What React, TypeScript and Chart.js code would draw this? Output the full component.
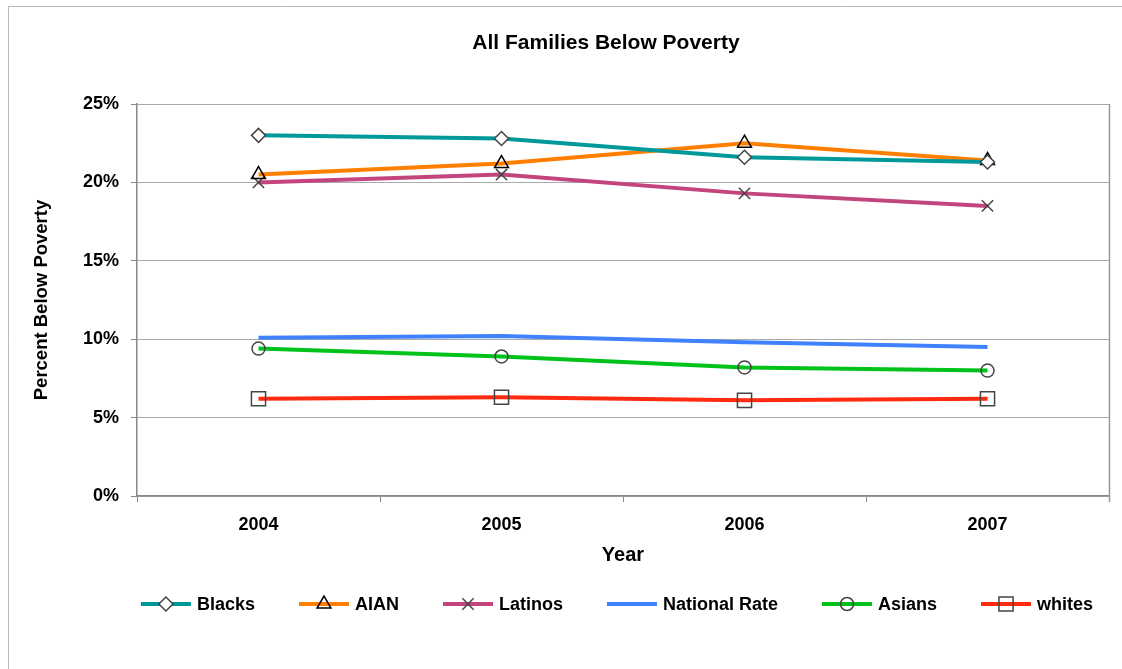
import React, { useEffect, useRef } from "react";
import { Chart, registerables } from "chart.js";
import { drawPoint } from "chart.js/helpers";

Chart.register(...registerables);

const years = ["2004", "2005", "2006", "2007"];
const blacks = [23.0, 22.8, 21.6, 21.3];
const aian = [20.5, 21.2, 22.5, 21.4];
const latinos = [20.0, 20.5, 19.3, 18.5];
const nationalRate = [10.1, 10.2, 9.8, 9.5];
const asians = [9.4, 8.9, 8.2, 8.0];
const whites = [6.2, 6.3, 6.1, 6.2];

const chartTitle = "All Families Below Poverty";

const FONT = "'Liberation Sans', Arial, Helvetica, sans-serif";

type Series = {
  label: string;
  data: number[];
  color: string;
  pointStyle: any;
  radius: number;
  border: string;
  fill: string;
};

const series: Series[] = [
  { label: "Blacks", data: blacks, color: "#00999A", pointStyle: "rectRot", radius: 7, border: "#444", fill: "#fff" },
  { label: "AIAN", data: aian, color: "#FF7F00", pointStyle: "triangle", radius: 8, border: "#000", fill: "rgba(0,0,0,0)" },
  { label: "Latinos", data: latinos, color: "#C2457E", pointStyle: "crossRot", radius: 8, border: "#444", fill: "rgba(0,0,0,0)" },
  { label: "National Rate", data: nationalRate, color: "#3F81FF", pointStyle: false, radius: 0, border: "#444", fill: "rgba(0,0,0,0)" },
  { label: "Asians", data: asians, color: "#00C21A", pointStyle: "circle", radius: 6.5, border: "#444", fill: "rgba(0,0,0,0)" },
  { label: "whites", data: whites, color: "#FF2A10", pointStyle: "rect", radius: 10, border: "#444", fill: "rgba(0,0,0,0)" },
];

const framePlugin = {
  id: "frame",
  beforeDraw(chart: any) {
    const ctx = chart.ctx;
    ctx.save();
    ctx.strokeStyle = "#bbbbbb";
    ctx.lineWidth = 1;
    ctx.beginPath();
    ctx.moveTo(8, 6.5);
    ctx.lineTo(chart.width, 6.5);
    ctx.moveTo(8.5, 6);
    ctx.lineTo(8.5, chart.height);
    ctx.stroke();
    ctx.fillStyle = "#000";
    ctx.font = `bold 21px ${FONT}`;
    ctx.textAlign = "center";
    ctx.textBaseline = "middle";
    ctx.fillText(chartTitle, 606, 43);
    ctx.restore();
  },
  afterDatasetsDraw(chart: any) {
    const ctx = chart.ctx;
    const a = chart.chartArea;
    ctx.save();
    ctx.strokeStyle = "#999999";
    ctx.lineWidth = 1.5;
    ctx.beginPath();
    ctx.moveTo(Math.round(a.right) + 0.5, a.top);
    ctx.lineTo(Math.round(a.right) + 0.5, a.bottom + 6);
    ctx.stroke();
    ctx.restore();
  },
};

const legendPlugin = {
  id: "customLegend",
  afterDraw(chart: any) {
    const ctx = chart.ctx;
    ctx.save();
    ctx.font = `bold 18px ${FONT}`;
    const lineLen = 50;
    const textGap = 6;
    const itemGap = 44;
    const widths = series.map((s) => ctx.measureText(s.label).width);
    const total =
      widths.reduce((a, b) => a + b, 0) + series.length * (lineLen + textGap) + (series.length - 1) * itemGap;
    let x = 617 - total / 2;
    const y = 604;
    series.forEach((s, i) => {
      ctx.strokeStyle = s.color;
      ctx.lineWidth = 4;
      ctx.beginPath();
      ctx.moveTo(x, y);
      ctx.lineTo(x + lineLen, y);
      ctx.stroke();
      if (s.pointStyle) {
        ctx.strokeStyle = s.border;
        ctx.fillStyle = s.fill;
        ctx.lineWidth = 1.5;
        drawPoint(ctx, { pointStyle: s.pointStyle, radius: s.radius, borderWidth: 1.5, rotation: 0 } as any, x + lineLen / 2, y);
      }
      ctx.fillStyle = "#000";
      ctx.textBaseline = "middle";
      ctx.textAlign = "left";
      ctx.fillText(s.label, x + lineLen + textGap, y + 1);
      x += lineLen + textGap + widths[i] + itemGap;
    });
    ctx.restore();
  },
};

export default function App() {
  const ref = useRef<HTMLCanvasElement | null>(null);

  useEffect(() => {
    if (!ref.current) return;
    const chart = new Chart(ref.current, {
      type: "line",
      data: {
        labels: years,
        datasets: series.map((s) => ({
          label: s.label,
          data: s.data,
          borderColor: s.color,
          backgroundColor: s.color,
          borderWidth: 4,
          tension: 0,
          pointStyle: s.pointStyle,
          pointRadius: s.radius,
          pointHoverRadius: s.radius,
          pointBorderColor: s.border,
          pointBackgroundColor: s.fill,
          pointBorderWidth: 1.5,
        })),
      },
      options: {
        animation: false,
        responsive: false,
        maintainAspectRatio: false,
        layout: { padding: { left: 31, right: 13, top: 104, bottom: 102 } },
        plugins: {
          legend: { display: false },
          tooltip: { enabled: false },
          title: { display: false },
        },
        scales: {
          x: {
            offset: true,
            grid: {
              offset: true,
              drawOnChartArea: false,
              drawTicks: true,
              tickLength: 6,
              color: "#888",
            },
            border: { color: "#888", width: 1.5 },
            ticks: { color: "#000", font: { family: FONT, size: 18, weight: "bold" }, padding: 12 },
            title: {
              display: true,
              text: "Year",
              color: "#000",
              font: { family: FONT, size: 20, weight: "bold" },
              padding: 0,
            },
            afterFit(scale: any) {
              scale.height = 71;
            },
          },
          y: {
            min: 0,
            max: 25,
            grid: { color: "#aaa", tickLength: 6, tickColor: "#888" },
            border: { color: "#888", width: 1.5 },
            ticks: {
              stepSize: 5,
              color: "#000",
              padding: 12,
              font: { family: FONT, size: 18, weight: "bold" },
              callback: (v: any) => v + "%",
            },
            title: {
              display: true,
              text: "Percent Below Poverty",
              color: "#000",
              font: { family: FONT, size: 18.5, weight: "bold" },
              padding: 0,
            },
            afterFit(scale: any) {
              scale.width = 106;
            },
          },
        },
      },
      plugins: [framePlugin, legendPlugin],
    });
    return () => chart.destroy();
  }, []);

  return (
    <div style={{ position: "fixed", left: 0, top: 0, width: 1122, height: 669, background: "#fff" }}>
      <canvas ref={ref} width={1122} height={669} style={{ width: 1122, height: 669, display: "block" }} />
    </div>
  );
}
